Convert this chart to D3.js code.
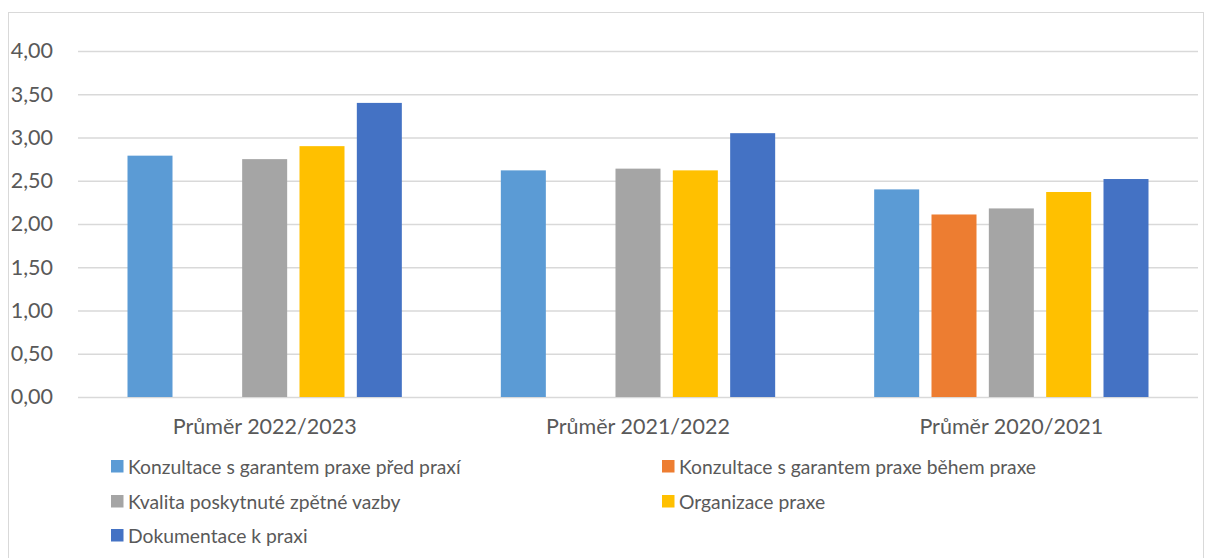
<!DOCTYPE html>
<html>
<head>
<meta charset="utf-8">
<script src="https://cdn.jsdelivr.net/npm/d3@7"></script>
<style>
  body { margin: 0; background: #fff; }
  text { font-family: Lato, "Open Sans", sans-serif; fill: #595959; }
</style>
</head>
<body>
<div id="chart-area"></div>
<script>
// SVG Size
var width = 1205,
    height = 558;

var categories = ["Průměr 2022/2023", "Průměr 2021/2022", "Průměr 2020/2021"];
var seriesNames = [
    "Konzultace s garantem praxe před praxí",
    "Konzultace s garantem praxe během praxe",
    "Kvalita poskytnuté zpětné vazby",
    "Organizace praxe",
    "Dokumentace k praxi"
];
var seriesColors = ["#5B9BD5", "#ED7D31", "#A5A5A5", "#FFC000", "#4472C4"];
// values per series, in category order (null = no bar)
var predPraxi = [2.79, 2.62, 2.40];
var behemPraxe = [null, null, 2.11];
var zpetnaVazba = [2.75, 2.64, 2.18];
var organizace = [2.90, 2.62, 2.37];
var dokumentace = [3.40, 3.05, 2.52];
var yTicks = [0, 0.5, 1, 1.5, 2, 2.5, 3, 3.5, 4];

var seriesValues = [predPraxi, behemPraxe, zpetnaVazba, organizace, dokumentace];

var plotLeft = 78, plotRight = 1198, plotTop = 51, plotBottom = 397;

var svg = d3.select("#chart-area").append("svg")
    .attr("width", width)
    .attr("height", height);

// chart border
svg.append("rect")
    .attr("x", 8.5).attr("y", 12.5)
    .attr("width", 1195).attr("height", 560)
    .attr("fill", "none")
    .attr("stroke", "#D9D9D9");

var yScale = d3.scaleLinear()
    .domain([0, 4])
    .range([plotBottom, plotTop]);

var x0 = d3.scaleBand()
    .domain(categories)
    .range([plotLeft, plotRight])
    .padding(0);

var bw = x0.bandwidth();
var x1 = d3.scaleBand()
    .domain(d3.range(seriesNames.length))
    .range([49.5, bw - 49.5])
    .paddingInner(0.215)
    .paddingOuter(0);

// gridlines
var yAxis = d3.axisLeft(yScale)
    .tickValues(yTicks)
    .tickSize(-(plotRight - plotLeft))
    .tickPadding(25)
    .tickFormat(function(d){ return d3.format(".2f")(d).replace(".", ","); });

var gy = svg.append("g")
    .attr("class", "axis y-axis")
    .attr("transform", "translate(" + plotLeft + ",0)")
    .call(yAxis);
gy.select(".domain").remove();
gy.selectAll(".tick line").attr("stroke", "#D9D9D9").attr("stroke-width", 1.3);
gy.selectAll(".tick text")
    .style("font-size", "21.5px")
    .attr("fill", "#595959");

// bars
var groups = svg.selectAll("g.cat")
    .data(categories)
    .enter()
    .append("g")
    .attr("class", "cat")
    .attr("transform", function(d){ return "translate(" + x0(d) + ",0)"; });

groups.selectAll("rect")
    .data(function(d, ci){
        return seriesValues.map(function(vals, si){ return {s: si, v: vals[ci]}; })
            .filter(function(e){ return e.v !== null; });
    })
    .enter()
    .append("rect")
    .attr("x", function(d){ return x1(d.s); })
    .attr("width", x1.bandwidth())
    .attr("y", function(d){ return yScale(d.v); })
    .attr("height", function(d){ return yScale(0) - yScale(d.v); })
    .attr("fill", function(d){ return seriesColors[d.s]; });

// x axis labels
var xAxis = d3.axisBottom(x0).tickSize(0).tickPadding(22);
var gx = svg.append("g")
    .attr("class", "axis x-axis")
    .attr("transform", "translate(0," + plotBottom + ")")
    .call(xAxis);
gx.select(".domain").remove();
gx.selectAll(".tick text")
    .style("font-size", "21.5px")
    .attr("fill", "#595959");

// legend
var legendX = [111, 662];
var legendY = [466.5, 501.5, 535.5];
var legend = svg.selectAll("g.legend")
    .data(seriesNames)
    .enter()
    .append("g")
    .attr("class", "legend")
    .attr("transform", function(d, i){
        return "translate(" + legendX[i % 2] + "," + legendY[Math.floor(i / 2)] + ")";
    });

legend.append("rect")
    .attr("x", 0).attr("y", -6.5)
    .attr("width", 12.5).attr("height", 12.5)
    .attr("fill", function(d, i){ return seriesColors[i]; });

legend.append("text")
    .attr("x", 17)
    .attr("y", 7.5)
    .style("font-size", "19.3px")
    .text(function(d){ return d; });
</script>
</body>
</html>
